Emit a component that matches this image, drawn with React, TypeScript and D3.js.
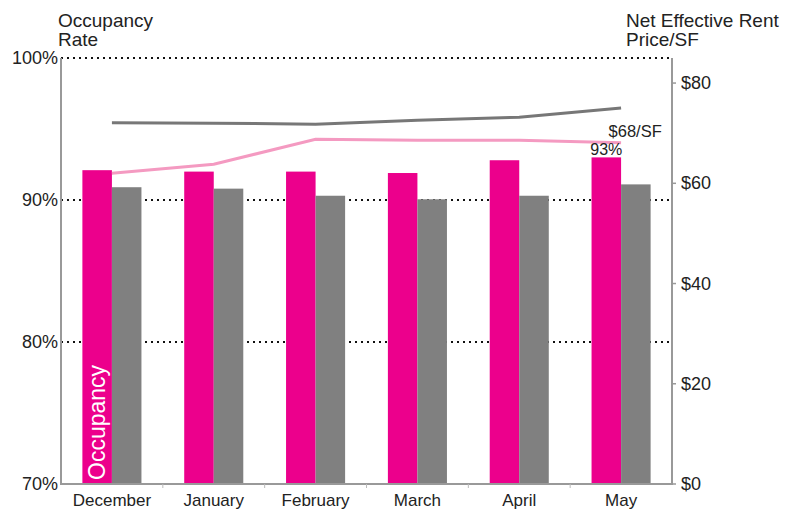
import * as d3 from "d3"

const months = ["December", "January", "February", "March", "April", "May"]
const occupancy = [92.1, 92.0, 92.0, 91.9, 92.8, 93.0]
const marketOccupancy = [90.9, 90.8, 90.3, 90.05, 90.3, 91.1]
const rent = [62.0, 63.8, 68.8, 68.6, 68.6, 68.1]
const marketRent = [72.1, 72.0, 71.8, 72.6, 73.2, 75.0]
const occTicks = [70, 80, 90, 100]
const rentTicks = [0, 20, 40, 60, 80]

const W = 790
const H = 510
const left = 61
const right = 672
const top = 58
const bottom = 484
const font = "Liberation Sans, Arial, sans-serif"

const PINK = "#ec008c"
const GREY = "#808080"

export default function App() {
  const x = d3.scaleBand<string>().domain(months).range([left, right]).paddingInner(0.42).paddingOuter(0.21)
  const sub = d3.scaleBand<string>().domain(["occ", "mkt"]).range([0, x.bandwidth()])
  const yOcc = d3.scaleLinear().domain([70, 100]).range([bottom, top])
  const yRent = d3.scaleLinear().domain([0, 85]).range([bottom, top])
  const step = (right - left) / months.length

  const lineGen = d3.line<number>()
    .x((_, i) => x(months[i])! + x.bandwidth() / 2)
    .y((d) => yRent(d))

  const last = months.length - 1
  const pinkLastX = x(months[last])! + sub("occ")!

  return (
    <svg width={W} height={H} style={{ position: "absolute", left: 0, top: 0, background: "#fff" }} fontFamily={font}>
      {/* titles */}
      <text x={58} y={27} fontSize={19} fill="#222">Occupancy</text>
      <text x={58} y={46} fontSize={19} fill="#222">Rate</text>
      <text x={626} y={27} fontSize={19} fill="#222">Net Effective Rent</text>
      <text x={626} y={46} fontSize={19} fill="#222">Price/SF</text>

      {/* grid */}
      {occTicks.filter((t) => t > 70).map((t) => (
        <line key={t} x1={left} x2={right} y1={yOcc(t)} y2={yOcc(t)} stroke="#111" strokeWidth={2} strokeDasharray="2 4" />
      ))}

      {/* bars */}
      {months.map((m, i) => (
        <g key={m}>
          <rect x={x(m)! + sub("occ")!} y={yOcc(occupancy[i])} width={sub.bandwidth()} height={bottom - yOcc(occupancy[i])} fill={PINK} />
          <rect x={x(m)! + sub("mkt")!} y={yOcc(marketOccupancy[i])} width={sub.bandwidth()} height={bottom - yOcc(marketOccupancy[i])} fill={GREY} />
        </g>
      ))}

      <text transform={`translate(${x(months[0])! + sub.bandwidth() / 2 + 8},480) rotate(-90)`} fontSize={23} fill="#fff">Occupancy</text>

      {/* lines */}
      <path d={lineGen(marketRent) ?? ""} fill="none" stroke="#777" strokeWidth={3} />
      <path d={lineGen(rent) ?? ""} fill="none" stroke="#f49ac1" strokeWidth={3} />

      {/* labels */}
      <text x={pinkLastX + sub.bandwidth() / 2} y={155} textAnchor="middle" fontSize={16} fill="#222">{`${Math.round(occupancy[last])}%`}</text>
      <text x={pinkLastX + 17} y={137} fontSize={16.5} fill="#222">{`$${Math.round(rent[last])}/SF`}</text>

      {/* axes */}
      <line x1={left} x2={left} y1={top} y2={bottom + 1} stroke="#999" strokeWidth={2} />
      <line x1={right} x2={right} y1={top} y2={bottom + 1} stroke="#999" strokeWidth={2} />
      <line x1={left} x2={right} y1={bottom} y2={bottom} stroke="#999" strokeWidth={2} />
      {months.slice(1).map((m, i) => (
        <line key={m} x1={left + step * (i + 1)} x2={left + step * (i + 1)} y1={bottom} y2={bottom + 4} stroke="#bbb" strokeWidth={1} />
      ))}

      {occTicks.map((t) => (
        <text key={t} x={58} y={yOcc(t) + 6} textAnchor="end" fontSize={18} fill="#222">{`${t}%`}</text>
      ))}
      {rentTicks.map((t) => (
        <g key={t}>
          <line x1={right} x2={right + 4} y1={yRent(t)} y2={yRent(t)} stroke="#999" strokeWidth={1.5} />
          <text x={681} y={yRent(t) + 6} fontSize={18} fill="#222">{`$${t}`}</text>
        </g>
      ))}
      {months.map((m) => (
        <text key={m} x={x(m)! + x.bandwidth() / 2} y={506} textAnchor="middle" fontSize={17} fill="#222">{m}</text>
      ))}
    </svg>
  )
}
